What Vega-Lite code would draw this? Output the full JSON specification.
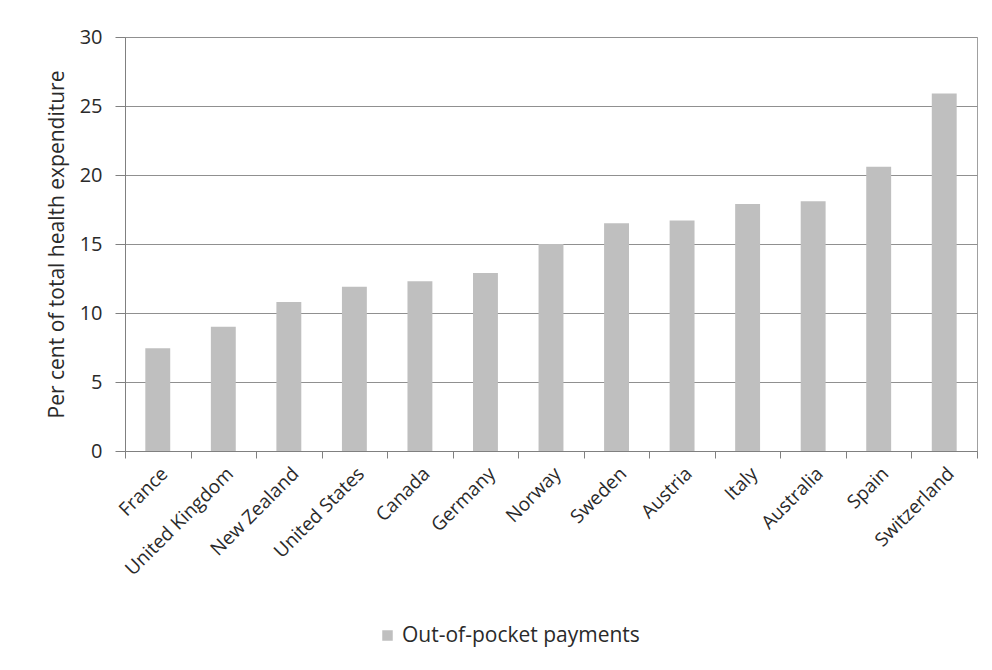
{
  "$schema": "https://vega.github.io/schema/vega-lite/v6.json",
  "autosize": "none",
  "width": 852,
  "height": 414,
  "padding": {"left": 125, "top": 37, "right": 15, "bottom": 219},
  "background": "white",
  "config": {
    "font": "Open Sans",
    "view": {"stroke": "#a0a0a0", "strokeWidth": 1}
  },
  "data": {
    "values": [
      {"country": "France", "value": 7.45, "series": "Out-of-pocket payments"},
      {"country": "United Kingdom", "value": 9.0, "series": "Out-of-pocket payments"},
      {"country": "New Zealand", "value": 10.8, "series": "Out-of-pocket payments"},
      {"country": "United States", "value": 11.9, "series": "Out-of-pocket payments"},
      {"country": "Canada", "value": 12.3, "series": "Out-of-pocket payments"},
      {"country": "Germany", "value": 12.9, "series": "Out-of-pocket payments"},
      {"country": "Norway", "value": 15.0, "series": "Out-of-pocket payments"},
      {"country": "Sweden", "value": 16.5, "series": "Out-of-pocket payments"},
      {"country": "Austria", "value": 16.7, "series": "Out-of-pocket payments"},
      {"country": "Italy", "value": 17.9, "series": "Out-of-pocket payments"},
      {"country": "Australia", "value": 18.1, "series": "Out-of-pocket payments"},
      {"country": "Spain", "value": 20.6, "series": "Out-of-pocket payments"},
      {"country": "Switzerland", "value": 25.9, "series": "Out-of-pocket payments"}
    ]
  },
  "mark": {"type": "bar", "width": {"band": 0.38}},
  "encoding": {
    "x": {
      "field": "country",
      "type": "nominal",
      "sort": null,
      "scale": {"paddingInner": 0, "paddingOuter": 0},
      "axis": {
        "title": null,
        "labelAngle": -45,
        "labelFontSize": 19,
        "labelColor": "#2a2a2a",
        "labelPadding": 6,
        "labelLimit": 300,
        "tickBand": "extent",
        "tickSize": 7,
        "tickColor": "#808080",
        "domainColor": "#808080",
        "grid": false
      }
    },
    "y": {
      "field": "value",
      "type": "quantitative",
      "scale": {"domain": [0, 30]},
      "axis": {
        "title": "Per cent of total health expenditure",
        "titleFontSize": 21,
        "titleFontWeight": "normal",
        "titleColor": "#2a2a2a",
        "titlePadding": 12,
        "values": [0, 5, 10, 15, 20, 25, 30],
        "labelFontSize": 20,
        "labelColor": "#2a2a2a",
        "labelPadding": 13,
        "tickSize": 10,
        "tickColor": "#808080",
        "domainColor": "#808080",
        "gridColor": "#909090",
        "gridWidth": 1.2
      }
    },
    "color": {
      "field": "series",
      "type": "nominal",
      "scale": {"range": ["#bfbfbf"]},
      "legend": {
        "title": null,
        "orient": "none",
        "legendX": 252,
        "legendY": 588,
        "symbolType": "square",
        "symbolSize": 110,
        "symbolStrokeWidth": 0,
        "labelFontSize": 21,
        "labelLimit": 400,
        "labelColor": "#2a2a2a"
      }
    }
  }
}
